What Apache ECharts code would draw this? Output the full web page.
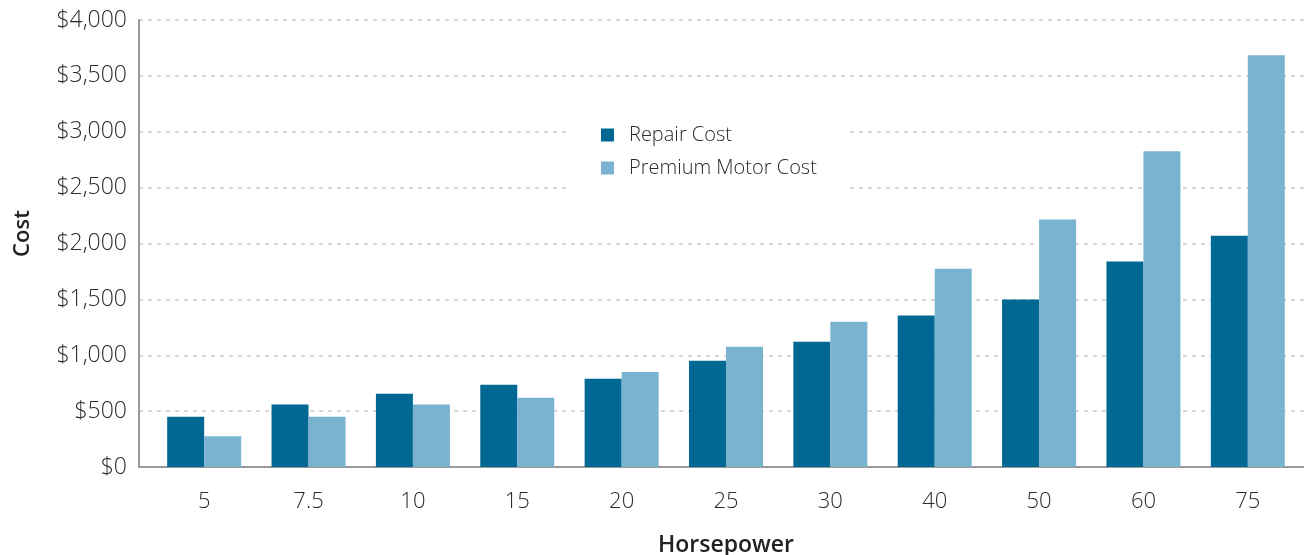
<!DOCTYPE html>
<html>
<head>
<meta charset="utf-8">
<script src="https://cdn.jsdelivr.net/npm/echarts@6/dist/echarts.min.js"></script>
<style>
  html, body { margin: 0; padding: 0; background: #fff; }
  #main { width: 1304px; height: 555px; }
</style>
</head>
<body>
<div id="main"></div>
<script>
var categories = ["5", "7.5", "10", "15", "20", "25", "30", "40", "50", "60", "75"];
var repairCost = [450, 560, 655, 735, 790, 950, 1120, 1355, 1500, 1840, 2070];
var premiumCost = [275, 450, 560, 620, 850, 1075, 1300, 1775, 2215, 2825, 3685];
var yTicks = { min: 0, max: 4000, interval: 500 };

var myChart = echarts.init(document.getElementById("main"));
var font = "'Open Sans', sans-serif";

var option = {
  animation: false,
  textStyle: { fontFamily: font },
  // grid 0 carries the y axis and frame, grid 1 carries the bars (inset a little from the y axis)
  grid: [
    { left: 139, right: 0, top: 20, bottom: 88, outerBoundsMode: "none" },
    { left: 152, right: 4, top: 20, bottom: 88, outerBoundsMode: "none" }
  ],
  legend: {
    orient: "vertical",
    left: 569,
    top: 105,
    padding: [20, 29, 16, 32],
    backgroundColor: "#fff",
    icon: "rect",
    itemWidth: 13,
    itemHeight: 13,
    itemGap: 13,
    textStyle: { fontSize: 20, color: "#2a2a2a", fontFamily: font, fontWeight: 300, padding: [0, 0, 0, 10] },
    data: ["Repair Cost", "Premium Motor Cost"]
  },
  xAxis: [
    {
      gridIndex: 0,
      type: "value",
      min: 0,
      max: 1,
      axisLine: { show: true, onZero: false, lineStyle: { color: "#999", width: 2 } },
      axisTick: { show: false },
      axisLabel: { show: false },
      splitLine: { show: false }
    },
    {
      gridIndex: 1,
      type: "category",
      data: categories,
      name: "Horsepower",
      nameLocation: "middle",
      nameGap: 67,
      nameTextStyle: { fontSize: 23, color: "#222", fontWeight: 600 },
      axisLine: { show: false },
      axisTick: { show: false },
      axisLabel: { fontSize: 22, color: "#2a2a2a", fontWeight: 300, margin: 24 }
    }
  ],
  yAxis: [
    {
      gridIndex: 0,
      type: "value",
      min: yTicks.min,
      max: yTicks.max,
      interval: yTicks.interval,
      name: "Cost",
      nameLocation: "middle",
      nameGap: 105,
      nameTextStyle: { fontSize: 22, color: "#222", fontWeight: 600, padding: [0, 0, 0, 20] },
      axisLine: { show: true, lineStyle: { color: "#999", width: 2 } },
      axisTick: { show: false },
      axisLabel: {
        fontSize: 23,
        color: "#2a2a2a",
        fontWeight: 300,
        margin: 12,
        formatter: function (v) { return "$" + v.toLocaleString("en-US"); }
      },
      splitLine: { lineStyle: { color: "#ccc", type: [4, 5], width: 1.5 } }
    },
    {
      gridIndex: 1,
      type: "value",
      min: yTicks.min,
      max: yTicks.max,
      interval: yTicks.interval,
      show: false,
      splitLine: { show: false }
    }
  ],
  series: [
    {
      name: "Repair Cost",
      type: "bar",
      xAxisIndex: 1,
      yAxisIndex: 1,
      data: repairCost,
      barWidth: 37,
      barGap: "0%",
      itemStyle: { color: "#006893" }
    },
    {
      name: "Premium Motor Cost",
      type: "bar",
      xAxisIndex: 1,
      yAxisIndex: 1,
      data: premiumCost,
      barWidth: 37,
      itemStyle: { color: "#7ab3d0" }
    }
  ]
};

myChart.setOption(option);
</script>
</body>
</html>
